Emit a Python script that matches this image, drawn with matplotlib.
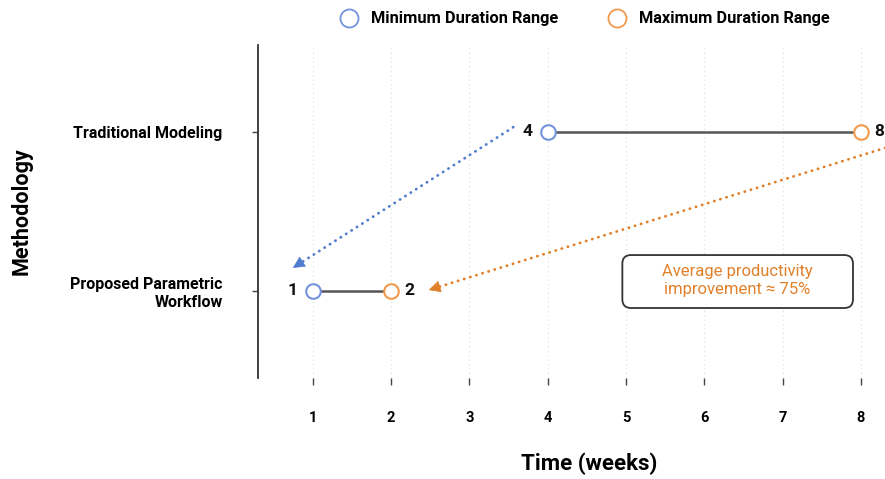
import numpy as np
import matplotlib
matplotlib.use("Agg")
import matplotlib.pyplot as plt
from matplotlib.lines import Line2D
from matplotlib.patches import FancyBboxPatch

plt.rcParams['font.family'] = ['Roboto', 'DejaVu Sans']

methods = ["Proposed Parametric\nWorkflow", "Traditional Modeling"]
min_weeks = [1, 4]
max_weeks = [2, 8]
weeks = [1, 2, 3, 4, 5, 6, 7, 8]

blue = "#7393dc"
orange = "#f29a4c"
blue_arrow = "#4f7ccc"
orange_arrow = "#e0802a"

fig = plt.figure(figsize=(8.85, 4.79), dpi=100)
ax = fig.add_axes([0.2915, 0.2109, 0.7079, 0.6952])

ypos = np.arange(len(methods))
for y, lo, hi in zip(ypos, min_weeks, max_weeks):
    ax.plot([lo, hi], [y, y], color="#555555", lw=1.8, zorder=2)
    ax.plot(lo, y, 'o', ms=10.5, mfc='white', mec=blue, mew=1.5, zorder=3)
    ax.plot(hi, y, 'o', ms=10.5, mfc='white', mec=orange, mew=1.5, zorder=3)
    ax.text(lo - 0.2, y, str(lo), ha='right', va='center', fontsize=12.5,
            fontweight='bold', color='#111111')
    ax.text(hi + 0.17, y, str(hi), ha='left', va='center', fontsize=12.5,
            fontweight='bold', color='#111111', clip_on=False)


def dotted_arrow(start, tip, color):
    # dotted shaft plus a solid head
    ax.annotate("", xy=tip, xytext=start,
                arrowprops=dict(arrowstyle='-', color=color, lw=2,
                                linestyle=(0, (0.1, 2.2)), capstyle='round',
                                shrinkA=0, shrinkB=5),
                annotation_clip=False)
    back = (tip[0] + (start[0] - tip[0]) * 0.02, tip[1] + (start[1] - tip[1]) * 0.02)
    ax.annotate("", xy=tip, xytext=back,
                arrowprops=dict(arrowstyle='-|>,head_length=0.7,head_width=0.35',
                                color=color, lw=0.5, mutation_scale=11,
                                shrinkA=0, shrinkB=0),
                annotation_clip=False)


dotted_arrow((3.56, 1.03), (0.745, 0.145), blue_arrow)
dotted_arrow((8.31, 0.90), (2.48, 0.006), orange_arrow)

box = FancyBboxPatch((4.953, -0.107), 2.945, 0.333,
                     boxstyle='round,pad=0,rounding_size=0.11',
                     mutation_aspect=0.49, fc='white', ec='#333333', lw=1.3,
                     zorder=4)
ax.add_patch(box)
ax.text(6.42, 0.063, "Average productivity\nimprovement \u2248 75%", ha='center',
        va='center', fontsize=12, color=orange_arrow, linespacing=1.25,
        zorder=5)

ax.set_xlim(0.3, 8.3)
ax.set_ylim(-0.547, 1.547)
ax.set_xticks(weeks)
ax.set_xticklabels([str(w) for w in weeks], fontsize=10.5, fontweight='bold')
ax.set_yticks(ypos)
ax.set_yticklabels(methods, fontsize=11.5, fontweight='bold')

ax.xaxis.grid(True, linestyle=(0, (1, 3)), color='#dddddd', lw=0.8)
ax.set_axisbelow(True)

for s in ['top', 'right', 'bottom']:
    ax.spines[s].set_visible(False)
ax.spines['left'].set_color('#333333')
ax.spines['left'].set_linewidth(1.3)
ax.tick_params(axis='x', length=5, width=1, color='#444444', pad=19)
ax.tick_params(axis='y', length=4.5, width=1, color='#444444', pad=21)

ax.set_xlabel("Time (weeks)", fontsize=16, fontweight='bold')
ax.xaxis.set_label_coords((589 - 258) / 627, -0.225)
ax.set_ylabel("Methodology", fontsize=15.5, fontweight='bold')
ax.yaxis.set_label_coords(-0.36, 0.5)

handles = [
    Line2D([], [], ls='none', marker='o', ms=13, mfc='white', mec=blue, mew=1.3),
    Line2D([], [], ls='none', marker='o', ms=13, mfc='white', mec=orange, mew=1.3),
]
fig.legend(handles, ["Minimum Duration Range", "Maximum Duration Range"],
           loc='center', bbox_to_anchor=(581 / 885, 1 - 19 / 479), ncol=2,
           frameon=False, prop=dict(size=11.8, weight='bold'),
           handletextpad=0.35, columnspacing=2.6)

fig.savefig("out.png", dpi=100)
